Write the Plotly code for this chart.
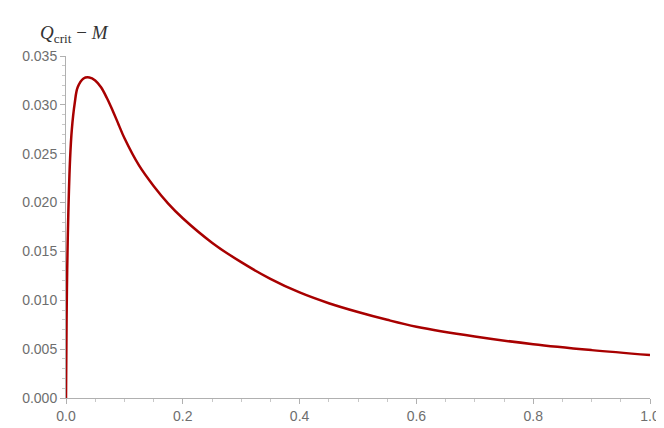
import plotly.graph_objects as go

M = [0.0, 0.001, 0.002, 0.004, 0.007, 0.01, 0.015, 0.02, 0.03, 0.04, 0.05, 0.06, 0.07, 0.08, 0.09, 0.1, 0.125, 0.15, 0.175, 0.2, 0.25, 0.3, 0.35, 0.4, 0.45, 0.5, 0.55, 0.6, 0.7, 0.8, 0.9, 1.0]
Q = [0.0, 0.008, 0.013, 0.019, 0.0245, 0.0275, 0.0302, 0.0318, 0.0327, 0.0328, 0.0325, 0.0318, 0.0307, 0.0294, 0.0280, 0.0266, 0.0238, 0.0217, 0.0199, 0.0184, 0.0159, 0.0139, 0.0122, 0.0108, 0.0097, 0.0088, 0.0080, 0.0073, 0.0063, 0.0055, 0.0049, 0.0044]

fig = go.Figure(go.Scatter(x=M, y=Q, mode="lines", line=dict(color="#a80000", width=2.5, shape="spline", smoothing=1.0)))
ax = dict(showgrid=False, zeroline=False, showline=True, linecolor="#b0b0b0", ticks="outside", tickcolor="#b0b0b0",
          ticklen=5, tickfont=dict(family="Liberation Sans", size=14, color="#6e6e6e"))
fig.update_xaxes(range=[0, 1.0], dtick=0.2, tickformat=".1f", minor=dict(ticks="outside", dtick=0.05, ticklen=3, tickcolor="#c8c8c8"), **ax)
fig.update_yaxes(range=[0, 0.035], dtick=0.005, tickformat=".3f", minor=dict(ticks="outside", dtick=0.001, ticklen=3, tickcolor="#c8c8c8"), **ax)
fig.update_layout(width=664, height=428, margin=dict(l=58, r=22, t=48, b=32), plot_bgcolor="white", paper_bgcolor="white",
                  showlegend=False,
                  annotations=[
                      dict(text="<i>Q</i><sub>crit</sub> − <i>M</i>", xref="paper", yref="paper", x=0, y=1.0, xanchor="center", yanchor="bottom",
                           xshift=8, yshift=8, showarrow=False, font=dict(family="Liberation Serif", size=19, color="#333")),
                      dict(text="<i>M</i>", xref="paper", yref="paper", x=1.0, y=0, xanchor="left", yanchor="middle", xshift=4, yshift=2,
                           showarrow=False, font=dict(family="Liberation Serif", size=19, color="#333"))])
fig.write_html("out.html")
